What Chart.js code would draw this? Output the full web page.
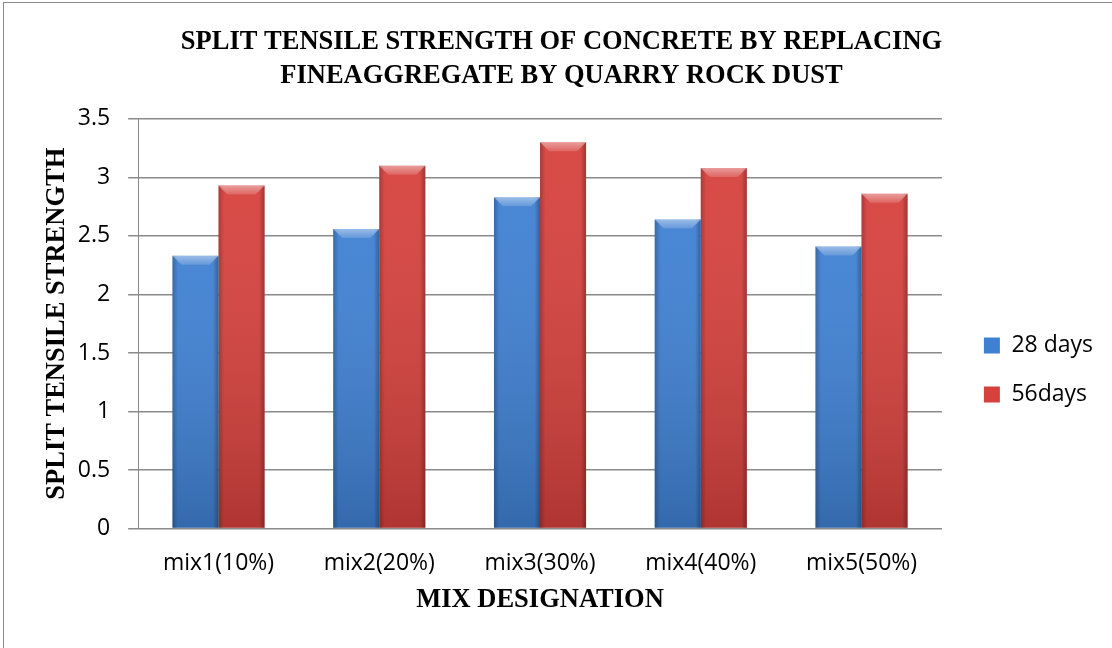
<!DOCTYPE html>
<html>
<head>
<meta charset="utf-8">
<script src="https://cdn.jsdelivr.net/npm/chart.js@4.4.1/dist/chart.umd.min.js"></script>
<style>
  html, body { margin: 0; padding: 0; background: #fff; overflow: hidden; }
  #wrap { width: 1112px; height: 648px; position: relative; }
</style>
</head>
<body>
<div id="wrap"><canvas id="c" width="1112" height="648"></canvas></div>
<script>
// Mix designations (percentage of fine aggregate replaced by quarry rock dust)
const mixes = ['mix1(10%)', 'mix2(20%)', 'mix3(30%)', 'mix4(40%)', 'mix5(50%)'];
// Split tensile strength after curing
const days28 = [2.33, 2.56, 2.83, 2.64, 2.41];
const days56 = [2.93, 3.10, 3.30, 3.08, 2.86];
const seriesNames = ['28 days', '56days'];
const yTicks = [0, 0.5, 1, 1.5, 2, 2.5, 3, 3.5];

const serif = '"Liberation Serif", "DejaVu Serif", serif';
const sans = '"Open Sans", "DejaVu Sans", sans-serif';

// Outer frame of the chart
const framePlugin = {
  id: 'frame',
  beforeDraw(chart) {
    const ctx = chart.ctx;
    ctx.save();
    ctx.fillStyle = '#fff';
    ctx.fillRect(0, 0, chart.width, chart.height);
    ctx.strokeStyle = '#8a8a8a';
    ctx.lineWidth = 1;
    ctx.strokeRect(3.5, 2.5, chart.width + 10, chart.height + 10);
    ctx.restore();
  }
};

// Legend sits a little below the middle of the plot
const legendOffsetPlugin = {
  id: 'legendOffset',
  afterLayout(chart) {
    const lg = chart.legend;
    if (!lg) return;
    lg.top += 62;
    lg.bottom += 62;
  }
};

// Bevelled, shaded look for every bar, based on the bar elements' own geometry
const bevelPlugin = {
  id: 'bevel',
  afterDatasetsDraw(chart) {
    const ctx = chart.ctx;
    chart.data.datasets.forEach((ds, di) => {
      const meta = chart.getDatasetMeta(di);
      meta.data.forEach(bar => {
        const p = bar.getProps(['x', 'y', 'base', 'width'], true);
        const l = p.x - p.width / 2, r = p.x + p.width / 2;
        const t = p.y, b = p.base, h = b - t;
        const bv = Math.min(9, h / 2);
        ctx.save();
        // vertical darkening toward the base
        let g = ctx.createLinearGradient(0, t, 0, b);
        g.addColorStop(0, 'rgba(255,255,255,0.05)');
        g.addColorStop(1, 'rgba(0,0,0,0.18)');
        ctx.fillStyle = g;
        ctx.fillRect(l, t, r - l, h);
        // darker side edges
        g = ctx.createLinearGradient(l, 0, r, 0);
        g.addColorStop(0, 'rgba(0,0,0,0.22)');
        g.addColorStop(0.12, 'rgba(0,0,0,0)');
        g.addColorStop(0.88, 'rgba(0,0,0,0)');
        g.addColorStop(1, 'rgba(0,0,0,0.28)');
        ctx.fillStyle = g;
        ctx.fillRect(l, t, r - l, h);
        // lighter top bevel
        ctx.beginPath();
        ctx.moveTo(l, t);
        ctx.lineTo(r, t);
        ctx.lineTo(r - bv, t + bv);
        ctx.lineTo(l + bv, t + bv);
        ctx.closePath();
        g = ctx.createLinearGradient(0, t, 0, t + bv);
        g.addColorStop(0, 'rgba(255,255,255,0.45)');
        g.addColorStop(1, 'rgba(255,255,255,0.15)');
        ctx.fillStyle = g;
        ctx.fill();
        ctx.restore();
      });
    });
  }
};

new Chart(document.getElementById('c'), {
  type: 'bar',
  data: {
    labels: mixes,
    datasets: [
      { label: seriesNames[0], data: days28, backgroundColor: '#3f80d2', borderWidth: 0 },
      { label: seriesNames[1], data: days56, backgroundColor: '#d6413d', borderWidth: 0 }
    ]
  },
  options: {
    responsive: false,
    animation: false,
    devicePixelRatio: 1,
    datasets: { bar: { categoryPercentage: 0.573, barPercentage: 1.0 } },
    layout: { padding: { left: 20, right: 9, top: 0, bottom: 32 } },
    plugins: {
      title: {
        display: true,
        text: ['SPLIT TENSILE STRENGTH OF CONCRETE BY REPLACING', 'FINEAGGREGATE BY QUARRY ROCK DUST'],
        color: '#000',
        font: { family: serif, size: 26.5, weight: 'bold', lineHeight: 1.28 },
        padding: { top: 25, bottom: 26 }
      },
      legend: {
        position: 'right',
        align: 'center',
        labels: {
          color: '#000',
          font: { family: sans, size: 23 },
          boxWidth: 16,
          boxHeight: 16,
          padding: 26
        }
      },
      tooltip: { enabled: false }
    },
    scales: {
      x: {
        grid: { display: false, drawTicks: false },
        border: { display: true, color: '#8a8a8a', width: 1 },
        ticks: { color: '#000', font: { family: sans, size: 23 }, padding: 21 },
        title: {
          display: true, text: 'MIX DESIGNATION', color: '#000',
          font: { family: serif, size: 26.5, weight: 'bold', lineHeight: 1.2 }, padding: { top: -14, bottom: 0 }
        }
      },
      y: {
        min: 0, max: 3.5,
        afterBuildTicks(axis) { axis.ticks = yTicks.map(v => ({ value: v })); },
        grid: { color: '#8a8a8a', lineWidth: 1.5, tickLength: 10, drawTicks: true },
        border: { display: true, color: '#8a8a8a', width: 1 },
        ticks: { color: '#000', font: { family: sans, size: 23 }, padding: 18, callback: v => String(v) },
        title: {
          display: true, text: 'SPLIT TENSILE STRENGTH', color: '#000',
          font: { family: serif, size: 26.5, weight: 'bold', lineHeight: 1.2 }, padding: { top: 21, bottom: -13 }
        }
      },
      // empty band between the plot and the legend
      gap: {
        type: 'linear',
        position: 'right',
        display: true,
        grid: { display: false, drawTicks: false },
        border: { display: false },
        ticks: { display: false },
        afterFit(scale) { scale.width = 16; }
      }
    }
  },
  plugins: [framePlugin, legendOffsetPlugin, bevelPlugin]
});
</script>
</body>
</html>
